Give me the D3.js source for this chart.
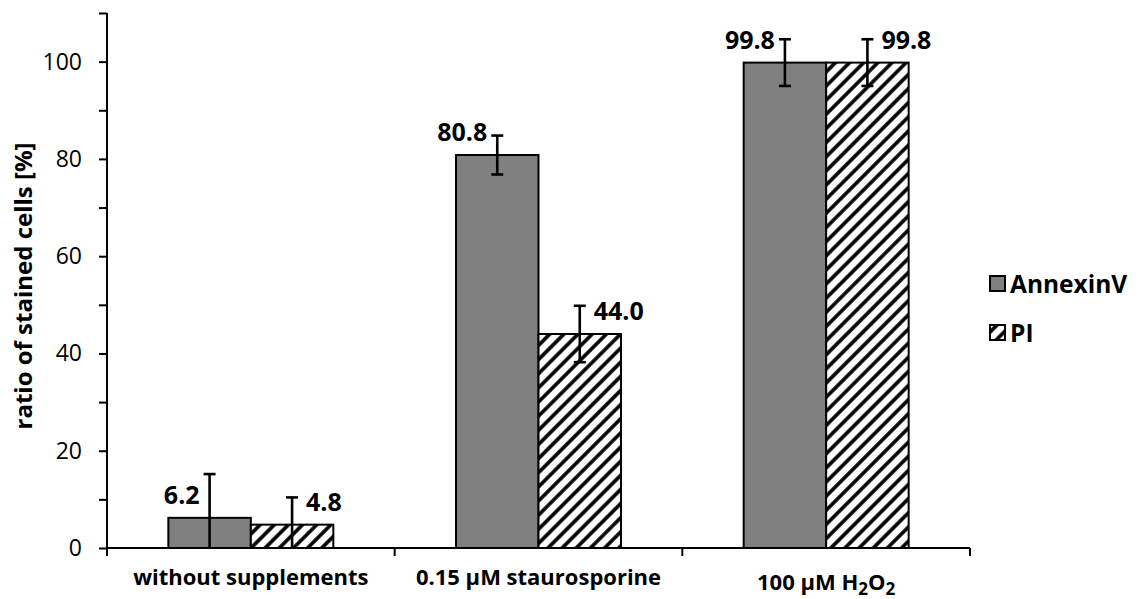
<!DOCTYPE html>
<html>
<head>
<meta charset="utf-8">
<script src="https://cdn.jsdelivr.net/npm/d3@7"></script>
<style>
  body { margin: 0; background: #fff; }
  svg text { font-family: "Open Sans", "DejaVu Sans", sans-serif; fill: #000; }
</style>
</head>
<body>
<div id="chart"></div>
<script>
// categories (use _n for a subscript digit)
var categories = ["without supplements", "0.15 µM staurosporine", "100 µM H_2O_2"];
var series = ["AnnexinV", "PI"];
var annexinValues = [6.2, 80.8, 99.8];
var annexinErrors = [9.0, 4.0, 4.8];
var piValues = [4.8, 44.0, 99.8];
var piErrors = [5.6, 5.8, 4.8];
var yTicks = [0, 10, 20, 30, 40, 50, 60, 70, 80, 90, 100, 110];
var yTickLabels = ["0", "", "20", "", "40", "", "60", "", "80", "", "100", ""];
var yTitle = "ratio of stained cells [%]";

var width = 1142,
  height = 599,
  margins = { left: 107, right: 172, top: 13, bottom: 51 };

var data = [];
categories.forEach(function (c, i) {
  data.push({ cat: c, s: "AnnexinV", v: annexinValues[i], e: annexinErrors[i] });
  data.push({ cat: c, s: "PI", v: piValues[i], e: piErrors[i] });
});

var svg = d3
  .select("#chart")
  .append("svg")
  .attr("width", width)
  .attr("height", height);

// hatch pattern for PI
var defs = svg.append("defs");
defs
  .append("pattern")
  .attr("id", "hatch")
  .attr("patternUnits", "userSpaceOnUse")
  .attr("width", 10)
  .attr("height", 10)
  .attr("patternTransform", "rotate(45)")
  .call(function (p) {
    p.append("rect").attr("width", 10).attr("height", 10).attr("fill", "#fff");
    p.append("line")
      .attr("x1", 5).attr("y1", 0).attr("x2", 5).attr("y2", 10)
      .attr("stroke", "#000").attr("stroke-width", 3.6);
  });

var fills = { AnnexinV: "#808080", PI: "url(#hatch)" };

var x0 = d3
  .scaleBand()
  .domain(categories)
  .range([margins.left, width - margins.right])
  .paddingInner(0.4265)
  .paddingOuter(0.4265 / 2);

var x1 = d3.scaleBand().domain(series).range([0, x0.bandwidth()]);

var y = d3
  .scaleLinear()
  .domain([0, 110])
  .range([height - margins.bottom, margins.top]);

// bars
svg
  .selectAll(".bar")
  .data(data)
  .enter()
  .append("rect")
  .attr("class", "bar")
  .attr("x", function (d) { return x0(d.cat) + x1(d.s); })
  .attr("y", function (d) { return y(d.v); })
  .attr("width", x1.bandwidth())
  .attr("height", function (d) { return y(0) - y(d.v); })
  .attr("fill", function (d) { return fills[d.s]; })
  .attr("stroke", "#000")
  .attr("stroke-width", 2);

// error bars (clipped at the axis)
var capW = 12;
var err = svg.selectAll(".err").data(data).enter().append("g").attr("class", "err")
  .attr("stroke", "#000").attr("stroke-width", 2.6);
function cx(d) { return x0(d.cat) + x1(d.s) + x1.bandwidth() / 2; }
err.append("line")
  .attr("x1", cx).attr("x2", cx)
  .attr("y1", function (d) { return y(d.v + d.e); })
  .attr("y2", function (d) { return y(Math.max(0, d.v - d.e)); });
err.append("line")
  .attr("x1", function (d) { return cx(d) - capW / 2; })
  .attr("x2", function (d) { return cx(d) + capW / 2; })
  .attr("y1", function (d) { return y(d.v + d.e); })
  .attr("y2", function (d) { return y(d.v + d.e); });
err.filter(function (d) { return d.v - d.e > 0; })
  .append("line")
  .attr("x1", function (d) { return cx(d) - capW / 2; })
  .attr("x2", function (d) { return cx(d) + capW / 2; })
  .attr("y1", function (d) { return y(d.v - d.e); })
  .attr("y2", function (d) { return y(d.v - d.e); });

// value labels
svg
  .selectAll(".vlabel")
  .data(data)
  .enter()
  .append("text")
  .attr("class", "vlabel")
  .attr("x", function (d) { return d.s === "AnnexinV" ? cx(d) - 10 : cx(d) + 14; })
  .attr("y", function (d) { return y(d.v) - 14; })
  .attr("text-anchor", function (d) { return d.s === "AnnexinV" ? "end" : "start"; })
  .attr("font-size", "25px")
  .attr("font-weight", "bold")
  .text(function (d) { return d.v.toFixed(1); });

// y axis
var yAxis = d3
  .axisLeft(y)
  .tickValues(yTicks)
  .tickSize(8)
  .tickPadding(17)
  .tickFormat(function (d, i) { return yTickLabels[i]; });
var gy = svg
  .append("g")
  .attr("transform", "translate(" + margins.left + ",0)")
  .call(yAxis);
gy.select(".domain").attr("d", "M0," + y(110) + "V" + y(0)).attr("stroke-width", 2);
gy.selectAll(".tick line").attr("stroke-width", 2);
gy.selectAll(".tick text")
  .attr("font-size", "23px")
  .attr("font-family", null)
  .attr("fill", "#000");

// x axis: line with ticks at category boundaries
var step = x0.step();
var bounds = [margins.left].concat(categories.map(function (c) {
  return x0(c) + x0.bandwidth() + (step - x0.bandwidth()) / 2;
}));
svg.append("line")
  .attr("x1", margins.left).attr("x2", bounds[bounds.length - 1])
  .attr("y1", y(0)).attr("y2", y(0))
  .attr("stroke", "#000").attr("stroke-width", 2);
svg.selectAll(".xtick").data(bounds).enter().append("line")
  .attr("x1", function (d) { return d; }).attr("x2", function (d) { return d; })
  .attr("y1", y(0)).attr("y2", y(0) + 8)
  .attr("stroke", "#000").attr("stroke-width", 2);

// category labels
svg
  .selectAll(".clabel")
  .data(categories)
  .enter()
  .append("text")
  .attr("class", "clabel")
  .attr("x", function (d) { return x0(d) + x0.bandwidth() / 2; })
  .attr("y", function (d) { return height - 14 + (d.indexOf("_") >= 0 ? 5 : 0); })
  .attr("text-anchor", "middle")
  .attr("font-size", "22px")
  .attr("font-weight", "bold")
  .each(function (d) {
    var t = d3.select(this);
    var shift = 0;
    d.split(/(_\d)/).forEach(function (part) {
      if (!part) return;
      if (part[0] === "_") {
        t.append("tspan").attr("font-size", "17px").attr("dy", 5 - shift).text(part.slice(1));
        shift = 5;
      } else {
        t.append("tspan").attr("dy", -shift).text(part);
        shift = 0;
      }
    });
  });

// y title
svg
  .append("text")
  .attr("transform", "rotate(-90)")
  .attr("x", -286)
  .attr("y", 32)
  .attr("text-anchor", "middle")
  .attr("font-size", "24px")
  .attr("font-weight", "bold")
  .text(yTitle);

// legend
var legend = svg
  .selectAll(".legend")
  .data(series)
  .enter()
  .append("g")
  .attr("class", "legend")
  .attr("transform", function (d, i) { return "translate(990," + (276 + i * 49) + ")"; });
legend.append("rect")
  .attr("width", 15).attr("height", 15)
  .attr("fill", function (d) { return fills[d]; })
  .attr("stroke", "#000").attr("stroke-width", 2);
legend.append("text")
  .attr("x", 20).attr("y", 17)
  .attr("font-size", "24.5px")
  .attr("font-weight", "bold")
  .text(function (d) { return d; });
</script>
</body>
</html>
